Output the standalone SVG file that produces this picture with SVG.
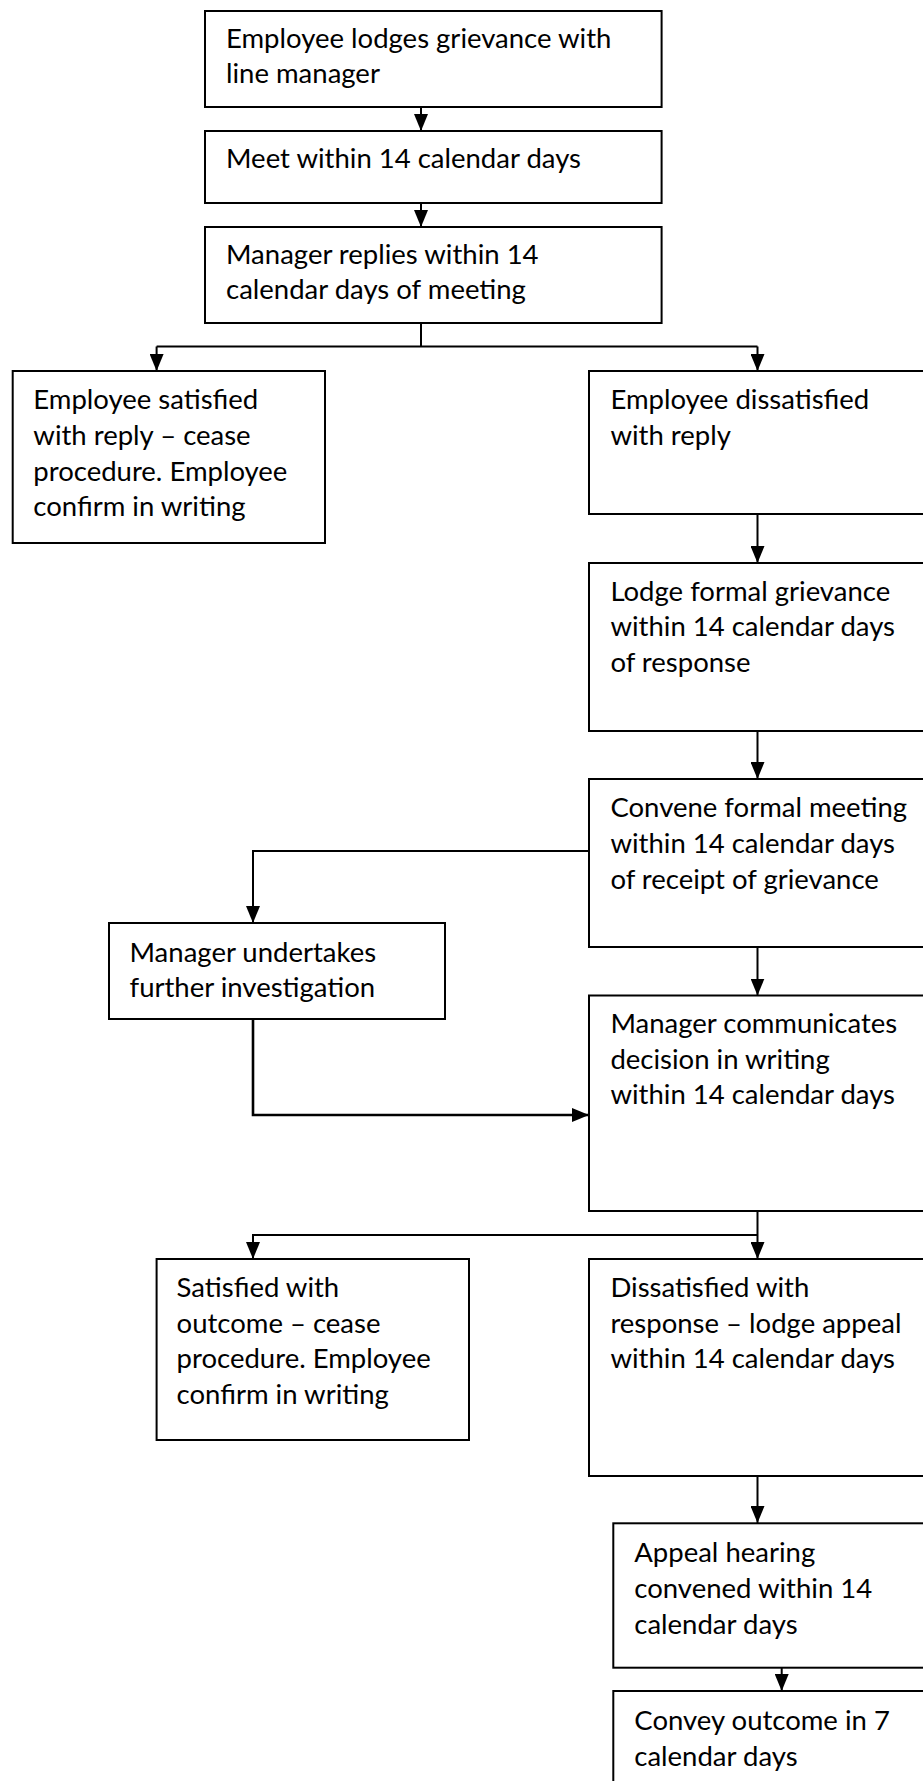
<svg xmlns="http://www.w3.org/2000/svg" width="923" height="1781" viewBox="0 0 923 1781">
<defs>
<marker id="arr" viewBox="0 0 17 14" refX="17" refY="7" markerWidth="17" markerHeight="14" orient="auto" markerUnits="userSpaceOnUse">
<path d="M0,0 L17,7 L0,14 z" fill="#000"/>
</marker>
<style>
.box{fill:#fff;stroke:#000;stroke-width:2}
.t{font-family:Lato,"Liberation Sans",sans-serif;font-size:27.5px;fill:#000}
.c{fill:none;stroke:#000;stroke-width:2}
.ca{fill:none;stroke:#000;stroke-width:2;marker-end:url(#arr)}
</style>
</defs>
<rect width="923" height="1781" fill="#fff"/>
<g id="connectors">
<path class="ca" d="M421,107 V131"/>
<path class="ca" d="M421,203 V227"/>
<path class="c" d="M421,323 V346.5 M156.6,346.5 H757.5"/>
<path class="ca" d="M156.6,346.5 V371"/>
<path class="ca" d="M757.5,346.5 V371"/>
<path class="ca" d="M757.5,514 V563"/>
<path class="ca" d="M757.5,731 V779"/>
<path class="ca" d="M589,851 H253 V923"/>
<path class="ca" d="M757.5,947 V995.5"/>
<path class="ca" d="M253,1019 V1115 H589" style="stroke-width:2.6"/>
<path class="ca" d="M757.5,1211 V1259"/>
<path class="ca" d="M757.5,1235 H253 V1259"/>
<path class="ca" d="M757.5,1476 V1523"/>
<path class="ca" d="M781.7,1667.7 V1691"/>
</g>
<g id="n1"><rect class="box" x="205" y="11" width="456.6" height="96"/>
<text class="t" x="226" y="47.5">Employee lodges grievance with</text>
<text class="t" x="226" y="83.3">line manager</text></g>
<g id="n2"><rect class="box" x="205" y="131" width="456.6" height="72"/>
<text class="t" x="226" y="168">Meet within 14 calendar days</text></g>
<g id="n3"><rect class="box" x="205" y="227" width="456.6" height="96"/>
<text class="t" x="226" y="263.5">Manager replies within 14</text>
<text class="t" x="226" y="299.3">calendar days of meeting</text></g>
<g id="n4"><rect class="box" x="12.7" y="371" width="312.3" height="172"/>
<text class="t" x="33.3" y="409">Employee satisfied</text>
<text class="t" x="33.3" y="444.8">with reply – cease</text>
<text class="t" x="33.3" y="480.6">procedure. Employee</text>
<text class="t" x="33.3" y="516.4">confirm in writing</text></g>
<g id="n5"><rect class="box" x="589" y="371" width="400" height="143"/>
<text class="t" x="610.4" y="409">Employee dissatisfied</text>
<text class="t" x="610.4" y="444.8">with reply</text></g>
<g id="n6"><rect class="box" x="589" y="563" width="400" height="168"/>
<text class="t" x="610.4" y="600.5">Lodge formal grievance</text>
<text class="t" x="610.4" y="636.3">within 14 calendar days</text>
<text class="t" x="610.4" y="672.1">of response</text></g>
<g id="n7"><rect class="box" x="589" y="779" width="400" height="168"/>
<text class="t" x="610.4" y="817">Convene formal meeting</text>
<text class="t" x="610.4" y="852.8">within 14 calendar days</text>
<text class="t" x="610.4" y="888.6">of receipt of grievance</text></g>
<g id="n8"><rect class="box" x="109" y="923" width="336" height="96"/>
<text class="t" x="129.5" y="961.5">Manager undertakes</text>
<text class="t" x="129.5" y="997.3">further investigation</text></g>
<g id="n9"><rect class="box" x="589" y="995.5" width="400" height="215.5"/>
<text class="t" x="610.4" y="1032.7">Manager communicates</text>
<text class="t" x="610.4" y="1068.5">decision in writing</text>
<text class="t" x="610.4" y="1104.3">within 14 calendar days</text></g>
<g id="n10"><rect class="box" x="156.6" y="1259" width="312.4" height="181"/>
<text class="t" x="176.6" y="1296.7">Satisfied with</text>
<text class="t" x="176.6" y="1332.5">outcome – cease</text>
<text class="t" x="176.6" y="1368.3">procedure. Employee</text>
<text class="t" x="176.6" y="1404.1">confirm in writing</text></g>
<g id="n11"><rect class="box" x="589" y="1259" width="400" height="217"/>
<text class="t" x="610.4" y="1296.7">Dissatisfied with</text>
<text class="t" x="610.4" y="1332.5">response – lodge appeal</text>
<text class="t" x="610.4" y="1368.3">within 14 calendar days</text></g>
<g id="n12"><rect class="box" x="613.3" y="1523.3" width="400" height="144.4"/>
<text class="t" x="634.3" y="1562.3">Appeal hearing</text>
<text class="t" x="634.3" y="1598.1">convened within 14</text>
<text class="t" x="634.3" y="1633.9">calendar days</text></g>
<g id="n13"><rect class="box" x="613.3" y="1691" width="400" height="150"/>
<text class="t" x="634.3" y="1730">Convey outcome in 7</text>
<text class="t" x="634.3" y="1765.8">calendar days</text></g>
</svg>
